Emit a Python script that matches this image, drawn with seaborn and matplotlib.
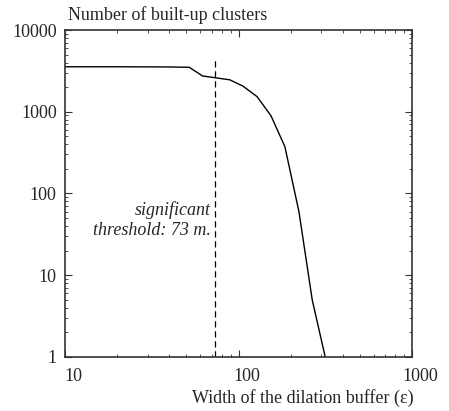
import numpy as np
import pandas as pd
import matplotlib
matplotlib.use("Agg")
import matplotlib.pyplot as plt
import matplotlib.transforms as mtransforms
import seaborn as sns

# width of the dilation buffer (m) and number of clusters
buffer_width = [10, 20, 30, 40, 52, 62, 73, 89, 106, 128, 154, 185, 223, 266, 316]
n_clusters = [3550, 3550, 3540, 3530, 3500, 2740, 2610, 2460, 2060, 1530, 890, 375, 60, 5, 1]

threshold = 73
threshold_top = 4300

df = pd.DataFrame({"width": buffer_width, "clusters": n_clusters})

sns.set_style("ticks")
plt.rcParams["font.family"] = ["Liberation Serif", "DejaVu Serif"]
plt.rcParams["xtick.direction"] = "in"
plt.rcParams["ytick.direction"] = "in"

fs = 13

fig = plt.figure(figsize=(4.49, 4.11), dpi=100)
ax = fig.add_axes([0.1448, 0.1314, 0.7728, 0.7956])

sns.lineplot(data=df, x="width", y="clusters", ax=ax, color="black", linewidth=1.0)
ax.plot([threshold, threshold], [1, threshold_top], color="black", linewidth=0.9,
        linestyle=(0, (5, 3)))

ax.set_xscale("log")
ax.set_yscale("log")
ax.set_xlim(10, 1000)
ax.set_ylim(1, 10000)
ax.set_xticks([10, 100, 1000])
ax.set_xticklabels(["10", "100", "1000"])
ax.set_yticks([1, 10, 100, 1000, 10000])
ax.set_yticklabels(["1", "10", "100", "1000", "10000"])
ax.tick_params(which="both", top=True, right=True, labelsize=fs, color="#333333")
ax.tick_params(which="major", length=5)
ax.tick_params(axis="x", which="major", pad=8)
ax.tick_params(axis="y", which="major", pad=6)
ax.tick_params(which="minor", length=2.5)
for s in ax.spines.values():
    s.set_linewidth(1.2)
    s.set_color("#333333")

# tick labels on the x axis sit a little to the right of their ticks
shift = mtransforms.ScaledTranslation(8 / 100, 0, fig.dpi_scale_trans)
for lab in ax.get_xticklabels():
    lab.set_transform(lab.get_transform() + shift)

ax.set_xlabel("")
ax.set_ylabel("")
fig.text(0.152, 0.963, "Number of built-up clusters", fontsize=fs, va="center", ha="left")
fig.text(0.922, 0.032, "Width of the dilation buffer (\u03b5)", fontsize=fs, va="center", ha="right")

ax.text(69, 63, "significant", fontsize=fs, style="italic", ha="right", va="center")
ax.text(69, 35, "threshold: 73 m.", fontsize=fs, style="italic", ha="right", va="center")

fig.savefig("out.png", dpi=100)
